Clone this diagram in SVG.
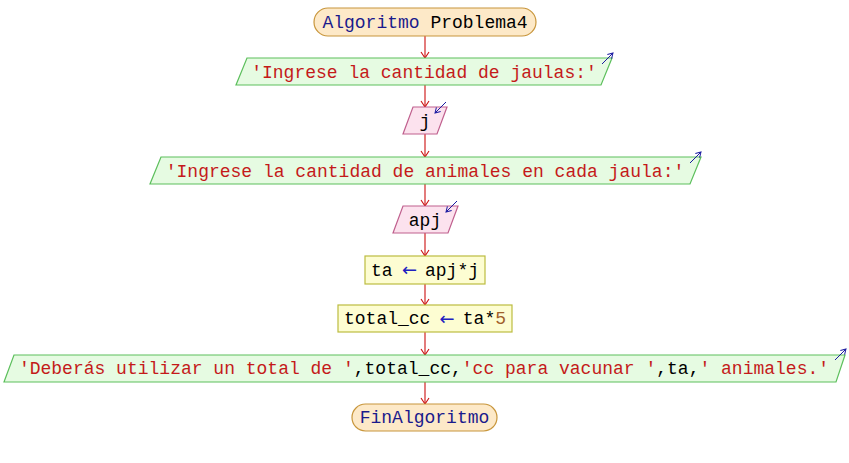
<svg xmlns="http://www.w3.org/2000/svg" width="849" height="463" viewBox="0 0 849 463">
  <style>
    text { font-family: "Liberation Mono", "Courier New", monospace; font-size: 18px; text-anchor: middle; fill: #000000; }
    text.left { text-anchor: start; }
    .kw { fill: #1a1a8c; }
    .str { fill: #c41a1a; }
    .num { fill: #a0602a; }
    text.op { fill: #2020c0; font-family: "DejaVu Sans", sans-serif; font-size: 18px; text-anchor: middle; }
    .term { fill: #fde9c8; stroke: #c8963c; stroke-width: 1.2; }
    .out { fill: #e6fbe2; stroke: #5cbf5c; stroke-width: 1.2; }
    .in { fill: #fce2ee; stroke: #c0608e; stroke-width: 1.2; }
    .asg { fill: #fdfdd2; stroke: #bcbc40; stroke-width: 1.2; }
    .flow { stroke: #cc1010; stroke-width: 1.1; fill: none; marker-end: url(#arrowRed); }
    .io { stroke: #1a1aa0; stroke-width: 1; fill: none; marker-end: url(#arrowBlue); }
  </style>
  <defs>
    <marker id="arrowRed" markerUnits="userSpaceOnUse" markerWidth="12" markerHeight="12" refX="0" refY="0" viewBox="-8 -6 10 12" orient="auto">
      <path d="M-6,-4 L0,0 L-6,4" fill="none" stroke="#cc1010" stroke-width="1.1"/>
    </marker>
    <marker id="arrowBlue" markerUnits="userSpaceOnUse" markerWidth="10" markerHeight="10" refX="0" refY="0" viewBox="-6 -5 8 10" orient="auto">
      <path d="M-5,-3 L0,0 L-5,3" fill="none" stroke="#1a1aa0" stroke-width="1"/>
    </marker>
  </defs>

  <!-- connectors -->
  <g id="connectors">
    <line class="flow" x1="425" y1="36" x2="425" y2="58"/>
    <line class="flow" x1="425" y1="85" x2="425" y2="107"/>
    <line class="flow" x1="425" y1="134" x2="425" y2="157"/>
    <line class="flow" x1="425" y1="184" x2="425" y2="206"/>
    <line class="flow" x1="425" y1="233" x2="425" y2="256"/>
    <line class="flow" x1="425" y1="284" x2="425" y2="305"/>
    <line class="flow" x1="425" y1="332" x2="425" y2="355"/>
    <line class="flow" x1="425" y1="382" x2="425" y2="404"/>
  </g>

  <!-- start -->
  <g id="start">
    <rect class="term" x="314" y="8" width="222" height="28" rx="14" ry="14"/>
    <text x="425" y="27.5"><tspan class="kw">Algoritmo</tspan> Problema4</text>
  </g>

  <!-- output: number of cages -->
  <g id="out1">
    <polygon class="out" points="247,58 612,58 601,85 236,85"/>
    <line class="io" x1="602" y1="64" x2="613" y2="53"/>
    <text x="424" y="77.5" class="str">'Ingrese la cantidad de jaulas:'</text>
  </g>

  <!-- input j -->
  <g id="in_j">
    <polygon class="in" points="413,107 447,107 437,134 403,134"/>
    <line class="io" x1="446" y1="102" x2="435" y2="113"/>
    <text x="425" y="126.5">j</text>
  </g>

  <!-- output: animals per cage -->
  <g id="out2">
    <polygon class="out" points="161,157 701,157 690,184 150,184"/>
    <line class="io" x1="690" y1="163" x2="701" y2="152"/>
    <text x="425" y="176.5" class="str">'Ingrese la cantidad de animales en cada jaula:'</text>
  </g>

  <!-- input apj -->
  <g id="in_apj">
    <polygon class="in" points="403,206 458,206 448,233 393,233"/>
    <line class="io" x1="457" y1="201" x2="446" y2="212"/>
    <text x="425" y="225.5">apj</text>
  </g>

  <!-- ta <- apj*j (monospace cells of 10.8px, arrow spans its cell) -->
  <g id="assign_ta">
    <rect class="asg" x="365" y="256" width="120" height="28"/>
    <text class="left" x="371" y="275.5">ta</text>
    <text class="op" x="409.5" y="276">←</text>
    <text class="left" x="425" y="275.5">apj*j</text>
  </g>

  <!-- total_cc <- ta*5 -->
  <g id="assign_total">
    <rect class="asg" x="338" y="305" width="174" height="27"/>
    <text class="left" x="344" y="324">total_cc</text>
    <text class="op" x="447" y="324.5">←</text>
    <text class="left" x="462.8" y="324">ta*<tspan class="num">5</tspan></text>
  </g>

  <!-- final output -->
  <g id="out3">
    <polygon class="out" points="14,355 845,355 836,382 4,382"/>
    <line class="io" x1="835" y1="360" x2="846" y2="349"/>
    <text x="424" y="374"><tspan class="str">'Deberás utilizar un total de '</tspan>,total_cc,<tspan class="str">'cc para vacunar '</tspan>,ta,<tspan class="str">' animales.'</tspan></text>
  </g>

  <!-- end -->
  <g id="end">
    <rect class="term" x="352" y="404" width="145" height="27" rx="13.5" ry="13.5"/>
    <text x="424.5" y="423" class="kw">FinAlgoritmo</text>
  </g>
</svg>
